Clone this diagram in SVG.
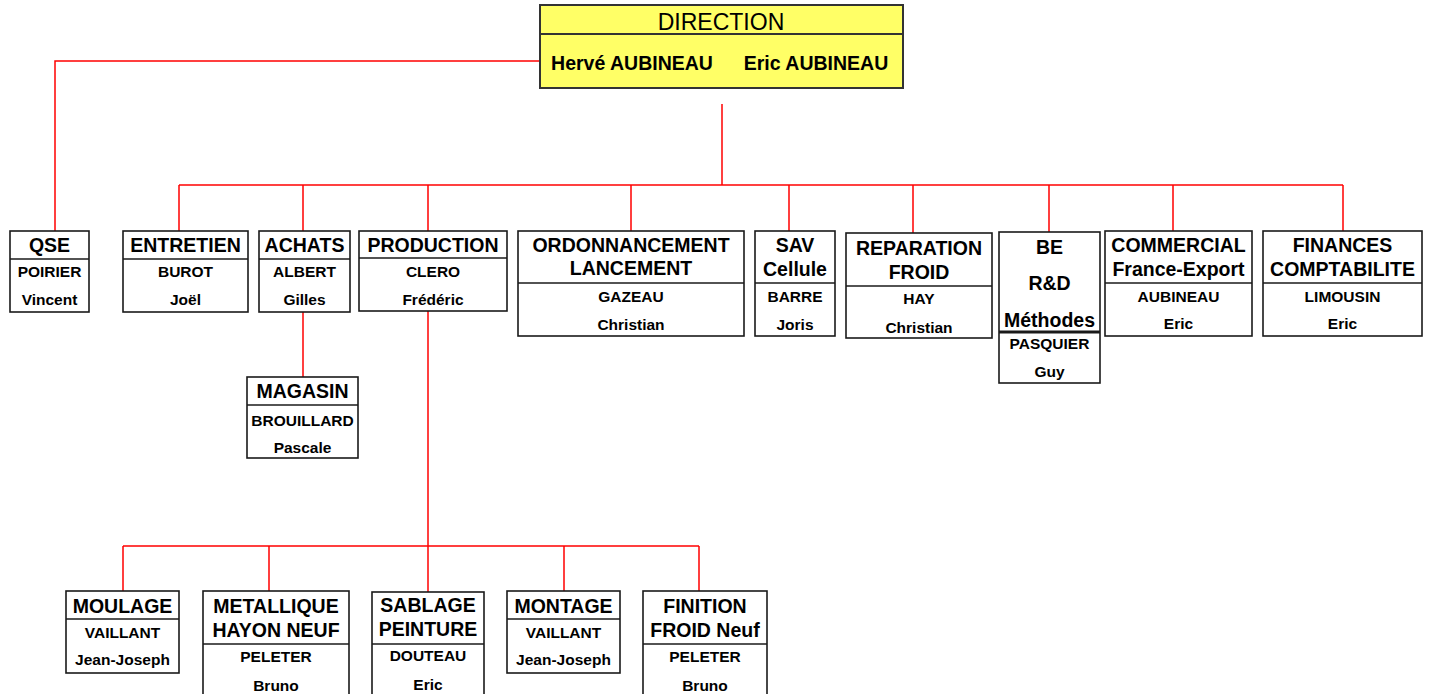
<svg xmlns="http://www.w3.org/2000/svg" width="1431" height="694" viewBox="0 0 1431 694">
<style>
.b{fill:#fff;stroke:#1a1a1a;stroke-width:1.6}
.d{stroke:#1a1a1a;stroke-width:1.6}
.c{fill:none;stroke:#ff0000;stroke-width:1.5}
text{font-family:"Liberation Sans",Arial,sans-serif;font-weight:bold;text-anchor:middle;fill:#000}
.t{font-size:19.5px}
.n{font-size:15.5px}
.h{font-size:23px;font-weight:normal}
.m{font-size:19.5px}
</style>
<rect width="1431" height="694" fill="#fff"/>
<g id="connectors">
<path class="c" d="M540 61H55V231"/>
<path class="c" d="M722 104V185"/>
<path class="c" d="M179 185H1343"/>
<path class="c" d="M179 185V231M303 185V231M428 185V231M631 185V231M789 185V231M913 185V233M1049 185V232M1173 185V231M1343 185V231"/>
<path class="c" d="M303 312V377"/>
<path class="c" d="M428 311V592"/>
<path class="c" d="M123 546H699M123 546V591M269 546V591M564 546V591M699 546V591"/>
</g>
<g id="direction">
<rect x="540" y="5" width="363" height="83" fill="#ffff66" stroke="#333" stroke-width="2"/>
<line x1="540" y1="34" x2="903" y2="34" stroke="#333" stroke-width="2"/>
<text class="h" x="721" y="30">DIRECTION</text>
<text class="m" x="632" y="70">Hervé AUBINEAU</text>
<text class="m" x="816" y="70">Eric AUBINEAU</text>
</g>
<g id="qse">
<rect class="b" x="10" y="231" width="79" height="81"/>
<line class="d" x1="10" y1="259" x2="89" y2="259"/>
<text class="t" x="49.5" y="252">QSE</text>
<text class="n" x="49.5" y="277">POIRIER</text>
<text class="n" x="49.5" y="305">Vincent</text>
</g>
<g id="entretien">
<rect class="b" x="123" y="231" width="125" height="81"/>
<line class="d" x1="123" y1="259" x2="248" y2="259"/>
<text class="t" x="185.5" y="252">ENTRETIEN</text>
<text class="n" x="185.5" y="277">BUROT</text>
<text class="n" x="185.5" y="305">Joël</text>
</g>
<g id="achats">
<rect class="b" x="259" y="231" width="91" height="81"/>
<line class="d" x1="259" y1="259" x2="350" y2="259"/>
<text class="t" x="304.5" y="252">ACHATS</text>
<text class="n" x="304.5" y="277">ALBERT</text>
<text class="n" x="304.5" y="305">Gilles</text>
</g>
<g id="production">
<rect class="b" x="359" y="231" width="148" height="80"/>
<line class="d" x1="359" y1="258" x2="507" y2="258"/>
<text class="t" x="433" y="252">PRODUCTION</text>
<text class="n" x="433" y="277">CLERO</text>
<text class="n" x="433" y="305">Frédéric</text>
</g>
<g id="ordonnancement">
<rect class="b" x="518" y="231" width="226" height="105"/>
<line class="d" x1="518" y1="283" x2="744" y2="283"/>
<text class="t" x="631" y="252">ORDONNANCEMENT</text>
<text class="t" x="631" y="275">LANCEMENT</text>
<text class="n" x="631" y="302">GAZEAU</text>
<text class="n" x="631" y="330">Christian</text>
</g>
<g id="sav">
<rect class="b" x="755" y="231" width="80" height="105"/>
<line class="d" x1="755" y1="283" x2="835" y2="283"/>
<text class="t" x="795" y="252">SAV</text>
<text class="t" x="795" y="276">Cellule</text>
<text class="n" x="795" y="302">BARRE</text>
<text class="n" x="795" y="330">Joris</text>
</g>
<g id="reparation">
<rect class="b" x="846" y="233" width="146" height="105"/>
<line class="d" x1="846" y1="286" x2="992" y2="286"/>
<text class="t" x="919" y="255">REPARATION</text>
<text class="t" x="919" y="279">FROID</text>
<text class="n" x="919" y="304">HAY</text>
<text class="n" x="919" y="333">Christian</text>
</g>
<g id="be">
<rect class="b" x="999" y="232" width="101" height="151"/>
<line x1="999" y1="332" x2="1100" y2="332" stroke="#1a1a1a" stroke-width="3"/>
<text class="t" x="1049.5" y="254">BE</text>
<text class="t" x="1049.5" y="290">R&amp;D</text>
<text class="t" x="1049.5" y="327">Méthodes</text>
<text class="n" x="1049.5" y="349">PASQUIER</text>
<text class="n" x="1049.5" y="377">Guy</text>
</g>
<g id="commercial">
<rect class="b" x="1105" y="231" width="147" height="105"/>
<line class="d" x1="1105" y1="283" x2="1252" y2="283"/>
<text class="t" x="1178.5" y="252">COMMERCIAL</text>
<text class="t" x="1178.5" y="276">France-Export</text>
<text class="n" x="1178.5" y="302">AUBINEAU</text>
<text class="n" x="1178.5" y="329">Eric</text>
</g>
<g id="finances">
<rect class="b" x="1263" y="231" width="159" height="105"/>
<line class="d" x1="1263" y1="283" x2="1422" y2="283"/>
<text class="t" x="1342.5" y="252">FINANCES</text>
<text class="t" x="1342.5" y="276">COMPTABILITE</text>
<text class="n" x="1342.5" y="302">LIMOUSIN</text>
<text class="n" x="1342.5" y="329">Eric</text>
</g>
<g id="magasin">
<rect class="b" x="247" y="377" width="111" height="81"/>
<line class="d" x1="247" y1="405" x2="358" y2="405"/>
<text class="t" x="302.5" y="398">MAGASIN</text>
<text class="n" x="302.5" y="426">BROUILLARD</text>
<text class="n" x="302.5" y="453">Pascale</text>
</g>
<g id="moulage">
<rect class="b" x="66" y="591" width="113" height="82"/>
<line class="d" x1="66" y1="619" x2="179" y2="619"/>
<text class="t" x="122.5" y="613">MOULAGE</text>
<text class="n" x="122.5" y="638">VAILLANT</text>
<text class="n" x="122.5" y="665">Jean-Joseph</text>
</g>
<g id="metallique">
<rect class="b" x="203" y="591" width="146" height="110"/>
<line class="d" x1="203" y1="644" x2="349" y2="644"/>
<text class="t" x="276" y="613">METALLIQUE</text>
<text class="t" x="276" y="637">HAYON NEUF</text>
<text class="n" x="276" y="662">PELETER</text>
<text class="n" x="276" y="691">Bruno</text>
</g>
<g id="sablage">
<rect class="b" x="372" y="592" width="112" height="110"/>
<line class="d" x1="372" y1="644" x2="484" y2="644"/>
<text class="t" x="428" y="612">SABLAGE</text>
<text class="t" x="428" y="636">PEINTURE</text>
<text class="n" x="428" y="661">DOUTEAU</text>
<text class="n" x="428" y="690">Eric</text>
</g>
<g id="montage">
<rect class="b" x="507" y="591" width="113" height="82"/>
<line class="d" x1="507" y1="619" x2="620" y2="619"/>
<text class="t" x="563.5" y="613">MONTAGE</text>
<text class="n" x="563.5" y="638">VAILLANT</text>
<text class="n" x="563.5" y="665">Jean-Joseph</text>
</g>
<g id="finition">
<rect class="b" x="643" y="591" width="124" height="110"/>
<line class="d" x1="643" y1="644" x2="767" y2="644"/>
<text class="t" x="705" y="613">FINITION</text>
<text class="t" x="705" y="637">FROID Neuf</text>
<text class="n" x="705" y="662">PELETER</text>
<text class="n" x="705" y="691">Bruno</text>
</g>
</svg>
